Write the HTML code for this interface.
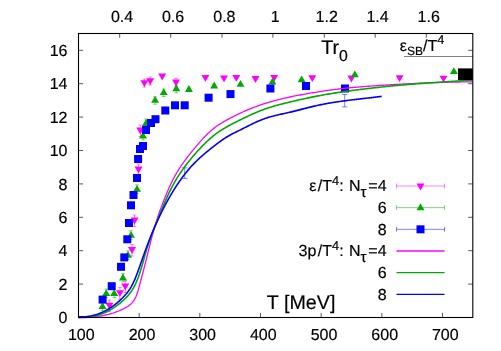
<!DOCTYPE html>
<html><head><meta charset="utf-8"><title>plot</title>
<style>html,body{margin:0;padding:0;background:#fff;}svg{display:block;will-change:transform;}text{font-family:"Liberation Sans",sans-serif;fill:#000;stroke:#000;stroke-width:0.18px;text-rendering:geometricPrecision;}</style></head><body>
<svg width="501" height="351" viewBox="0 0 501 351">
<rect width="501" height="351" fill="#fff"/>
<path d="M109.40,300.10 V311.60 M107.60,300.10 H111.20 M107.60,311.60 H111.20" stroke="#ff00ff" stroke-width="0.5" fill="none"/>
<path d="M119.90,287.60 V299.10 M118.10,287.60 H121.70 M118.10,299.10 H121.70" stroke="#ff00ff" stroke-width="0.5" fill="none"/>
<path d="M125.30,281.00 V292.50 M123.50,281.00 H127.10 M123.50,292.50 H127.10" stroke="#ff00ff" stroke-width="0.5" fill="none"/>
<path d="M132.00,244.50 V256.00 M130.20,244.50 H133.80 M130.20,256.00 H133.80" stroke="#ff00ff" stroke-width="0.5" fill="none"/>
<path d="M134.50,215.00 V226.50 M132.70,215.00 H136.30 M132.70,226.50 H136.30" stroke="#ff00ff" stroke-width="0.5" fill="none"/>
<path d="M138.50,164.00 V175.50 M136.70,164.00 H140.30 M136.70,175.50 H140.30" stroke="#ff00ff" stroke-width="0.5" fill="none"/>
<path d="M140.30,125.00 V136.50 M138.50,125.00 H142.10 M138.50,136.50 H142.10" stroke="#ff00ff" stroke-width="0.5" fill="none"/>
<path d="M144.40,79.10 V87.10 M142.60,79.10 H146.20 M142.60,87.10 H146.20" stroke="#ff00ff" stroke-width="0.5" fill="none"/>
<path d="M150.20,77.00 V85.00 M148.40,77.00 H152.00 M148.40,85.00 H152.00" stroke="#ff00ff" stroke-width="0.5" fill="none"/>
<path d="M176.00,78.40 V86.40 M174.20,78.40 H177.80 M174.20,86.40 H177.80" stroke="#ff00ff" stroke-width="0.5" fill="none"/>
<path d="M102.50,302.00 V310.60 M100.70,302.00 H104.30 M100.70,310.60 H104.30" stroke="#00aa00" stroke-width="0.5" fill="none"/>
<path d="M106.20,289.00 V297.60 M104.40,289.00 H108.00 M104.40,297.60 H108.00" stroke="#00aa00" stroke-width="0.5" fill="none"/>
<path d="M114.20,289.00 V297.60 M112.40,289.00 H116.00 M112.40,297.60 H116.00" stroke="#00aa00" stroke-width="0.5" fill="none"/>
<path d="M123.00,273.40 V282.00 M121.20,273.40 H124.80 M121.20,282.00 H124.80" stroke="#00aa00" stroke-width="0.5" fill="none"/>
<path d="M128.00,250.80 V259.40 M126.20,250.80 H129.80 M126.20,259.40 H129.80" stroke="#00aa00" stroke-width="0.5" fill="none"/>
<path d="M131.00,230.70 V239.30 M129.20,230.70 H132.80 M129.20,239.30 H132.80" stroke="#00aa00" stroke-width="0.5" fill="none"/>
<path d="M137.00,184.80 V193.40 M135.20,184.80 H138.80 M135.20,193.40 H138.80" stroke="#00aa00" stroke-width="0.5" fill="none"/>
<path d="M143.00,131.40 V140.00 M141.20,131.40 H144.80 M141.20,140.00 H144.80" stroke="#00aa00" stroke-width="0.5" fill="none"/>
<path d="M146.00,118.90 V127.50 M144.20,118.90 H147.80 M144.20,127.50 H147.80" stroke="#00aa00" stroke-width="0.5" fill="none"/>
<path d="M155.10,96.80 V104.20 M153.30,96.80 H156.90 M153.30,104.20 H156.90" stroke="#00aa00" stroke-width="0.5" fill="none"/>
<path d="M163.70,89.10 V96.50 M161.90,89.10 H165.50 M161.90,96.50 H165.50" stroke="#00aa00" stroke-width="0.5" fill="none"/>
<path d="M176.30,85.30 V92.70 M174.50,85.30 H178.10 M174.50,92.70 H178.10" stroke="#00aa00" stroke-width="0.5" fill="none"/>
<g>
<path d="M109.40,309.50 L113.40,302.70 L105.40,302.70Z" fill="#ff00ff"/>
<path d="M119.90,297.00 L123.90,290.20 L115.90,290.20Z" fill="#ff00ff"/>
<path d="M125.30,290.40 L129.30,283.60 L121.30,283.60Z" fill="#ff00ff"/>
<path d="M132.00,253.90 L136.00,247.10 L128.00,247.10Z" fill="#ff00ff"/>
<path d="M134.50,224.40 L138.50,217.60 L130.50,217.60Z" fill="#ff00ff"/>
<path d="M138.50,173.40 L142.50,166.60 L134.50,166.60Z" fill="#ff00ff"/>
<path d="M140.30,134.40 L144.30,127.60 L136.30,127.60Z" fill="#ff00ff"/>
<path d="M144.40,87.10 L148.40,80.30 L140.40,80.30Z" fill="#ff00ff"/>
<path d="M150.20,85.00 L154.20,78.20 L146.20,78.20Z" fill="#ff00ff"/>
<path d="M162.20,80.40 L166.20,73.60 L158.20,73.60Z" fill="#ff00ff"/>
<path d="M176.00,86.40 L180.00,79.60 L172.00,79.60Z" fill="#ff00ff"/>
<path d="M205.40,81.80 L209.40,75.00 L201.40,75.00Z" fill="#ff00ff"/>
<path d="M224.00,82.20 L228.00,75.40 L220.00,75.40Z" fill="#ff00ff"/>
<path d="M236.30,81.80 L240.30,75.00 L232.30,75.00Z" fill="#ff00ff"/>
<path d="M255.50,82.90 L259.50,76.10 L251.50,76.10Z" fill="#ff00ff"/>
<path d="M274.20,81.80 L278.20,75.00 L270.20,75.00Z" fill="#ff00ff"/>
<path d="M312.30,82.00 L316.30,75.20 L308.30,75.20Z" fill="#ff00ff"/>
<path d="M351.40,82.40 L355.40,75.60 L347.40,75.60Z" fill="#ff00ff"/>
<path d="M399.60,82.00 L403.60,75.20 L395.60,75.20Z" fill="#ff00ff"/>
<path d="M443.50,82.50 L447.50,75.70 L439.50,75.70Z" fill="#ff00ff"/>
<path d="M102.50,302.20 L106.50,309.00 L98.50,309.00Z" fill="#00aa00"/>
<path d="M106.20,289.20 L110.20,296.00 L102.20,296.00Z" fill="#00aa00"/>
<path d="M114.20,289.20 L118.20,296.00 L110.20,296.00Z" fill="#00aa00"/>
<path d="M123.00,273.60 L127.00,280.40 L119.00,280.40Z" fill="#00aa00"/>
<path d="M128.00,251.00 L132.00,257.80 L124.00,257.80Z" fill="#00aa00"/>
<path d="M131.00,230.90 L135.00,237.70 L127.00,237.70Z" fill="#00aa00"/>
<path d="M137.00,185.00 L141.00,191.80 L133.00,191.80Z" fill="#00aa00"/>
<path d="M143.00,131.60 L147.00,138.40 L139.00,138.40Z" fill="#00aa00"/>
<path d="M146.00,119.10 L150.00,125.90 L142.00,125.90Z" fill="#00aa00"/>
<path d="M155.10,96.00 L159.10,102.80 L151.10,102.80Z" fill="#00aa00"/>
<path d="M163.70,88.30 L167.70,95.10 L159.70,95.10Z" fill="#00aa00"/>
<path d="M176.30,84.50 L180.30,91.30 L172.30,91.30Z" fill="#00aa00"/>
<path d="M188.90,85.10 L192.90,91.90 L184.90,91.90Z" fill="#00aa00"/>
<path d="M214.20,81.60 L218.20,88.40 L210.20,88.40Z" fill="#00aa00"/>
<path d="M240.50,79.90 L244.50,86.70 L236.50,86.70Z" fill="#00aa00"/>
<path d="M272.40,77.80 L276.40,84.60 L268.40,84.60Z" fill="#00aa00"/>
<path d="M301.60,75.40 L305.60,82.20 L297.60,82.20Z" fill="#00aa00"/>
<path d="M354.80,70.40 L358.80,77.20 L350.80,77.20Z" fill="#00aa00"/>
<path d="M453.90,67.30 L457.90,74.10 L449.90,74.10Z" fill="#00aa00"/>
<rect x="98.60" y="295.60" width="8.0" height="8.0" fill="#0000ff"/>
<rect x="107.70" y="282.20" width="8.0" height="8.0" fill="#0000ff"/>
<rect x="117.00" y="262.80" width="8.0" height="8.0" fill="#0000ff"/>
<rect x="120.30" y="253.40" width="8.0" height="8.0" fill="#0000ff"/>
<rect x="123.30" y="235.30" width="8.0" height="8.0" fill="#0000ff"/>
<rect x="125.00" y="219.00" width="8.0" height="8.0" fill="#0000ff"/>
<rect x="127.00" y="201.30" width="8.0" height="8.0" fill="#0000ff"/>
<rect x="129.50" y="191.00" width="8.0" height="8.0" fill="#0000ff"/>
<rect x="133.00" y="174.00" width="8.0" height="8.0" fill="#0000ff"/>
<rect x="134.10" y="155.00" width="8.0" height="8.0" fill="#0000ff"/>
<rect x="136.00" y="145.00" width="8.0" height="8.0" fill="#0000ff"/>
<rect x="139.00" y="142.00" width="8.0" height="8.0" fill="#0000ff"/>
<rect x="142.00" y="126.00" width="8.0" height="8.0" fill="#0000ff"/>
<rect x="147.00" y="119.00" width="8.0" height="8.0" fill="#0000ff"/>
<rect x="151.50" y="115.20" width="8.0" height="8.0" fill="#0000ff"/>
<rect x="161.30" y="106.50" width="8.0" height="8.0" fill="#0000ff"/>
<rect x="171.00" y="101.30" width="8.0" height="8.0" fill="#0000ff"/>
<rect x="180.70" y="101.30" width="8.0" height="8.0" fill="#0000ff"/>
<rect x="204.60" y="93.70" width="8.0" height="8.0" fill="#0000ff"/>
<rect x="226.50" y="90.10" width="8.0" height="8.0" fill="#0000ff"/>
<rect x="266.40" y="84.50" width="8.0" height="8.0" fill="#0000ff"/>
<rect x="302.00" y="82.00" width="8.0" height="8.0" fill="#0000ff"/>
<rect x="341.00" y="84.50" width="8.0" height="8.0" fill="#0000ff"/>
</g>
<path d="M184.70,167.80 V178.40 M182.00,167.80 H187.40 M182.00,178.40 H187.40" stroke="#0000ff" stroke-width="0.5" fill="none"/>
<path d="M344.70,94.50 V106.90 M342.00,94.50 H347.40 M342.00,106.90 H347.40" stroke="#0000ff" stroke-width="0.5" fill="none"/>
<g font-size="16" text-anchor="end">
<text x="386.6" y="191.4">ε<tspan dx="1.5">/T</tspan><tspan dy="-6.5" font-size="12.8">4</tspan><tspan dy="6.5">:</tspan><tspan dx="1"> N</tspan><tspan dy="5.4" font-size="15">τ</tspan><tspan dy="-5.4" dx="1.8">=4</tspan></text>
<text x="386.6" y="213.1">6</text>
<text x="386.6" y="234.7">8</text>
<text x="386.6" y="256.4">3p<tspan dx="1.5">/T</tspan><tspan dy="-6.5" font-size="12.8">4</tspan><tspan dy="6.5">:</tspan><tspan dx="1"> N</tspan><tspan dy="5.4" font-size="15">τ</tspan><tspan dy="-5.4" dx="1.8">=4</tspan></text>
<text x="386.6" y="278.0">6</text>
<text x="386.6" y="299.7">8</text>
</g>
<path d="M396.5,186.00 H444.5 M396.5,183.60 V188.40 M444.5,183.60 V188.40" stroke="#ff00ff" stroke-width="0.5" fill="none"/>
<path d="M396.5,207.66 H444.5 M396.5,205.26 V210.06 M444.5,205.26 V210.06" stroke="#00aa00" stroke-width="0.5" fill="none"/>
<path d="M396.5,229.32 H444.5 M396.5,226.92 V231.72 M444.5,226.92 V231.72" stroke="#0000ff" stroke-width="0.5" fill="none"/>
<path d="M420.50,190.40 L424.50,183.60 L416.50,183.60Z" fill="#ff00ff"/>
<path d="M420.50,203.36 L424.50,210.16 L416.50,210.16Z" fill="#00aa00"/>
<rect x="416.50" y="225.32" width="8.0" height="8.0" fill="#0000ff"/>
<path d="M396.5,250.98 H444.5" stroke="#ff00ff" stroke-width="1.3" fill="none"/>
<path d="M396.5,272.64 H444.5" stroke="#00aa00" stroke-width="1.3" fill="none"/>
<path d="M396.5,294.30 H444.5" stroke="#0000ff" stroke-width="1.3" fill="none"/>
<path d="M78.50,317.79 L79.80,317.76 L81.10,317.72 L82.40,317.67 L83.70,317.62 L85.00,317.56 L86.31,317.49 L87.61,317.41 L88.91,317.32 L90.21,317.23 L91.51,317.11 L92.80,316.99 L94.10,316.86 L95.39,316.71 L96.68,316.55 L97.97,316.38 L99.26,316.19 L100.54,315.99 L101.82,315.77 L103.10,315.53 L104.37,315.28 L105.64,315.01 L106.91,314.72 L108.17,314.42 L109.43,314.09 L110.68,313.75 L111.93,313.38 L113.17,313.00 L114.40,312.59 L115.64,312.16 L116.86,311.71 L118.08,311.24 L119.29,310.74 L120.49,310.22 L121.68,309.68 L122.86,309.11 L124.03,308.52 L125.19,307.90 L126.33,307.26 L127.46,306.58 L128.54,305.87 L129.59,305.10 L130.58,304.28 L131.52,303.40 L132.38,302.46 L133.18,301.46 L133.92,300.41 L134.59,299.30 L135.21,298.16 L135.78,296.99 L136.30,295.79 L136.78,294.56 L137.22,293.33 L137.63,292.09 L138.01,290.84 L138.37,289.58 L138.72,288.32 L139.05,287.06 L139.38,285.79 L139.71,284.53 L140.04,283.27 L140.37,282.02 L140.71,280.76 L141.05,279.50 L141.38,278.25 L141.72,277.00 L142.06,275.74 L142.39,274.49 L142.73,273.23 L143.06,271.98 L143.39,270.73 L143.72,269.47 L144.05,268.21 L144.38,266.95 L144.70,265.69 L145.02,264.43 L145.34,263.17 L145.65,261.91 L145.97,260.65 L146.28,259.38 L146.60,258.12 L146.91,256.86 L147.22,255.59 L147.53,254.33 L147.84,253.06 L148.16,251.80 L148.47,250.53 L148.78,249.26 L149.10,248.00 L149.41,246.73 L149.73,245.47 L150.05,244.21 L150.37,242.94 L150.69,241.68 L151.01,240.42 L151.34,239.16 L151.67,237.89 L152.00,236.63 L152.33,235.38 L152.67,234.12 L153.01,232.86 L153.36,231.61 L153.71,230.35 L154.06,229.10 L154.42,227.85 L154.78,226.60 L155.15,225.35 L155.52,224.10 L155.90,222.86 L156.28,221.62 L156.67,220.38 L157.07,219.14 L157.47,217.90 L157.88,216.67 L158.29,215.44 L158.71,214.21 L159.14,212.98 L159.57,211.76 L160.01,210.54 L160.46,209.32 L160.91,208.10 L161.37,206.88 L161.83,205.67 L162.29,204.45 L162.76,203.24 L163.24,202.02 L163.71,200.81 L164.19,199.60 L164.68,198.39 L165.16,197.18 L165.65,195.97 L166.15,194.76 L166.64,193.55 L167.14,192.34 L167.65,191.14 L168.16,189.94 L168.68,188.74 L169.21,187.54 L169.74,186.35 L170.28,185.17 L170.83,183.99 L171.39,182.81 L171.96,181.64 L172.55,180.48 L173.14,179.32 L173.75,178.17 L174.36,177.03 L174.99,175.89 L175.63,174.76 L176.28,173.64 L176.94,172.53 L177.62,171.42 L178.30,170.31 L178.99,169.22 L179.69,168.13 L180.40,167.04 L181.12,165.96 L181.85,164.89 L182.59,163.82 L183.33,162.75 L184.09,161.69 L184.85,160.64 L185.62,159.59 L186.39,158.54 L187.18,157.50 L187.97,156.47 L188.76,155.43 L189.57,154.41 L190.37,153.38 L191.19,152.36 L192.01,151.34 L192.83,150.33 L193.67,149.32 L194.50,148.31 L195.34,147.31 L196.18,146.31 L197.03,145.31 L197.88,144.31 L198.74,143.32 L199.60,142.33 L200.47,141.35 L201.34,140.37 L202.22,139.40 L203.10,138.43 L203.99,137.48 L204.90,136.53 L205.81,135.60 L206.73,134.68 L207.66,133.77 L208.60,132.87 L209.55,131.99 L210.52,131.12 L211.50,130.27 L212.49,129.43 L213.49,128.62 L214.51,127.82 L215.55,127.04 L216.60,126.29 L217.66,125.55 L218.74,124.82 L219.83,124.12 L220.93,123.43 L222.04,122.75 L223.16,122.09 L224.28,121.43 L225.41,120.79 L226.55,120.15 L227.70,119.53 L228.84,118.91 L229.99,118.29 L231.15,117.68 L232.30,117.08 L233.47,116.49 L234.63,115.90 L235.80,115.32 L236.97,114.75 L238.14,114.18 L239.32,113.62 L240.50,113.07 L241.69,112.52 L242.88,111.98 L244.07,111.45 L245.26,110.93 L246.46,110.41 L247.66,109.90 L248.86,109.40 L250.07,108.90 L251.27,108.41 L252.49,107.93 L253.70,107.46 L254.92,107.00 L256.14,106.54 L257.36,106.09 L258.58,105.65 L259.81,105.21 L261.04,104.79 L262.27,104.37 L263.51,103.96 L264.75,103.56 L265.99,103.17 L267.23,102.78 L268.47,102.40 L269.72,102.03 L270.97,101.67 L272.22,101.31 L273.47,100.96 L274.72,100.62 L275.98,100.29 L277.24,99.96 L278.50,99.64 L279.76,99.32 L281.02,99.01 L282.28,98.71 L283.55,98.41 L284.82,98.12 L286.09,97.83 L287.36,97.55 L288.63,97.28 L289.90,97.00 L291.17,96.74 L292.45,96.48 L293.73,96.22 L295.00,95.96 L296.28,95.72 L297.56,95.47 L298.84,95.23 L300.12,94.99 L301.40,94.75 L302.68,94.52 L303.97,94.29 L305.25,94.07 L306.53,93.85 L307.82,93.62 L309.10,93.41 L310.38,93.19 L311.67,92.98 L312.95,92.76 L314.24,92.55 L315.53,92.34 L316.81,92.14 L318.10,91.93 L319.38,91.72 L320.67,91.52 L321.95,91.32 L323.24,91.12 L324.53,90.93 L325.81,90.73 L327.10,90.54 L328.39,90.36 L329.68,90.17 L330.96,89.99 L332.25,89.81 L333.54,89.64 L334.83,89.47 L336.12,89.30 L337.41,89.14 L338.70,88.98 L339.99,88.82 L341.28,88.67 L342.58,88.53 L343.87,88.39 L345.16,88.25 L346.46,88.12 L347.75,87.99 L349.05,87.86 L350.34,87.74 L351.64,87.62 L352.93,87.50 L354.23,87.38 L355.53,87.27 L356.82,87.16 L358.12,87.05 L359.42,86.95 L360.72,86.84 L362.01,86.74 L363.31,86.64 L364.61,86.54 L365.91,86.44 L367.21,86.34 L368.50,86.25 L369.80,86.15 L371.10,86.05 L372.40,85.96 L373.70,85.87 L374.99,85.78 L376.29,85.68 L377.59,85.59 L378.89,85.51 L380.19,85.42 L381.49,85.33 L382.79,85.24 L384.08,85.16 L385.38,85.08 L386.68,84.99 L387.98,84.91 L389.28,84.83 L390.58,84.75 L391.88,84.67 L393.18,84.59 L394.47,84.52 L395.77,84.44 L397.07,84.37 L398.37,84.29 L399.67,84.22 L400.97,84.15 L402.27,84.08 L403.57,84.01 L404.87,83.94 L406.17,83.87 L407.47,83.80 L408.77,83.74 L410.07,83.67 L411.37,83.61 L412.67,83.55 L413.97,83.49 L415.27,83.43 L416.57,83.37 L417.87,83.31 L419.17,83.25 L420.47,83.19 L421.77,83.14 L423.07,83.08 L424.37,83.03 L425.67,82.98 L426.97,82.93 L428.27,82.88 L429.57,82.83 L430.87,82.78 L432.17,82.73 L433.47,82.69 L434.77,82.64 L436.07,82.60 L437.37,82.56 L438.67,82.51 L439.97,82.47 L441.27,82.43 L442.57,82.40 L443.87,82.36 L445.17,82.32 L446.48,82.29 L447.78,82.25 L449.08,82.22 L450.38,82.19 L451.68,82.15 L452.98,82.12 L454.28,82.10 L455.58,82.07 L456.88,82.04 L458.18,82.01 L459.49,81.99 L460.79,81.97 L462.09,81.94 L463.39,81.92 L464.69,81.90 L465.99,81.88 L467.29,81.86 L468.60,81.84 L469.90,81.83 L471.20,81.81 L472.50,81.80" stroke="#ff00ff" stroke-width="1.3" fill="none" stroke-linejoin="round"/>
<path d="M78.50,316.99 L79.76,317.01 L81.03,317.02 L82.30,317.01 L83.58,316.98 L84.85,316.94 L86.13,316.87 L87.41,316.79 L88.68,316.68 L89.96,316.55 L91.23,316.39 L92.49,316.21 L93.75,316.01 L95.01,315.77 L96.26,315.50 L97.49,315.21 L98.72,314.88 L99.94,314.52 L101.14,314.12 L102.34,313.69 L103.52,313.23 L104.69,312.74 L105.85,312.22 L106.99,311.67 L108.13,311.09 L109.25,310.49 L110.35,309.87 L111.45,309.23 L112.53,308.56 L113.60,307.87 L114.66,307.17 L115.71,306.44 L116.74,305.70 L117.77,304.93 L118.78,304.16 L119.78,303.36 L120.77,302.55 L121.75,301.72 L122.72,300.87 L123.66,300.01 L124.60,299.13 L125.51,298.24 L126.40,297.32 L127.27,296.39 L128.11,295.44 L128.93,294.47 L129.72,293.48 L130.48,292.47 L131.22,291.44 L131.92,290.39 L132.60,289.32 L133.25,288.24 L133.87,287.14 L134.47,286.02 L135.05,284.89 L135.61,283.75 L136.14,282.59 L136.65,281.43 L137.15,280.25 L137.63,279.07 L138.09,277.87 L138.54,276.67 L138.97,275.47 L139.39,274.25 L139.79,273.04 L140.19,271.82 L140.57,270.60 L140.95,269.37 L141.31,268.15 L141.67,266.92 L142.03,265.69 L142.38,264.47 L142.72,263.24 L143.07,262.01 L143.41,260.79 L143.75,259.56 L144.08,258.33 L144.42,257.11 L144.77,255.89 L145.11,254.66 L145.46,253.44 L145.81,252.22 L146.17,251.01 L146.54,249.79 L146.92,248.58 L147.30,247.37 L147.69,246.16 L148.08,244.95 L148.48,243.75 L148.89,242.55 L149.31,241.35 L149.73,240.15 L150.16,238.95 L150.59,237.76 L151.02,236.56 L151.47,235.37 L151.91,234.18 L152.36,232.99 L152.82,231.80 L153.28,230.61 L153.74,229.42 L154.20,228.24 L154.67,227.05 L155.14,225.87 L155.61,224.68 L156.09,223.50 L156.57,222.32 L157.05,221.13 L157.53,219.95 L158.01,218.77 L158.49,217.59 L158.97,216.40 L159.45,215.22 L159.94,214.04 L160.42,212.86 L160.90,211.68 L161.39,210.49 L161.87,209.31 L162.36,208.13 L162.85,206.96 L163.34,205.78 L163.84,204.60 L164.34,203.43 L164.84,202.25 L165.34,201.08 L165.85,199.92 L166.37,198.75 L166.89,197.59 L167.41,196.43 L167.94,195.27 L168.48,194.11 L169.02,192.96 L169.57,191.82 L170.13,190.67 L170.69,189.53 L171.26,188.40 L171.84,187.27 L172.43,186.14 L173.03,185.02 L173.64,183.90 L174.25,182.79 L174.88,181.69 L175.52,180.59 L176.16,179.49 L176.82,178.40 L177.49,177.32 L178.17,176.25 L178.86,175.17 L179.56,174.11 L180.27,173.05 L180.98,171.99 L181.71,170.95 L182.44,169.90 L183.18,168.87 L183.93,167.83 L184.69,166.81 L185.45,165.78 L186.22,164.77 L187.00,163.76 L187.78,162.75 L188.57,161.75 L189.37,160.75 L190.17,159.76 L190.97,158.77 L191.78,157.79 L192.60,156.82 L193.42,155.85 L194.25,154.88 L195.09,153.92 L195.93,152.96 L196.78,152.01 L197.63,151.07 L198.49,150.13 L199.36,149.19 L200.23,148.26 L201.11,147.34 L201.99,146.42 L202.88,145.51 L203.78,144.60 L204.68,143.70 L205.59,142.80 L206.51,141.91 L207.44,141.03 L208.37,140.16 L209.31,139.30 L210.26,138.45 L211.22,137.61 L212.20,136.79 L213.18,135.98 L214.17,135.19 L215.18,134.41 L216.19,133.65 L217.22,132.90 L218.26,132.17 L219.31,131.46 L220.37,130.76 L221.43,130.07 L222.51,129.39 L223.59,128.73 L224.69,128.08 L225.78,127.44 L226.89,126.81 L228.00,126.18 L229.12,125.57 L230.24,124.97 L231.37,124.37 L232.50,123.78 L233.64,123.19 L234.78,122.61 L235.92,122.04 L237.06,121.46 L238.21,120.90 L239.35,120.33 L240.50,119.76 L241.65,119.20 L242.80,118.64 L243.94,118.08 L245.09,117.53 L246.24,116.98 L247.40,116.43 L248.55,115.89 L249.70,115.35 L250.86,114.82 L252.02,114.29 L253.18,113.77 L254.34,113.26 L255.51,112.75 L256.68,112.25 L257.85,111.76 L259.03,111.28 L260.21,110.81 L261.39,110.35 L262.57,109.89 L263.76,109.45 L264.96,109.02 L266.16,108.60 L267.36,108.19 L268.57,107.79 L269.78,107.40 L270.99,107.02 L272.21,106.65 L273.43,106.28 L274.65,105.93 L275.88,105.58 L277.10,105.24 L278.33,104.91 L279.57,104.58 L280.80,104.26 L282.04,103.94 L283.27,103.63 L284.51,103.32 L285.75,103.02 L286.99,102.72 L288.23,102.42 L289.47,102.12 L290.71,101.83 L291.95,101.53 L293.19,101.24 L294.44,100.95 L295.68,100.66 L296.92,100.38 L298.16,100.09 L299.40,99.81 L300.65,99.53 L301.89,99.25 L303.13,98.98 L304.38,98.71 L305.62,98.44 L306.86,98.17 L308.11,97.90 L309.35,97.64 L310.60,97.38 L311.85,97.13 L313.09,96.88 L314.34,96.63 L315.59,96.38 L316.84,96.14 L318.09,95.90 L319.34,95.67 L320.59,95.44 L321.84,95.21 L323.09,94.98 L324.35,94.76 L325.60,94.54 L326.86,94.32 L328.11,94.11 L329.37,93.90 L330.62,93.69 L331.88,93.49 L333.14,93.29 L334.39,93.09 L335.65,92.89 L336.91,92.70 L338.17,92.50 L339.43,92.32 L340.69,92.13 L341.95,91.94 L343.21,91.76 L344.47,91.58 L345.73,91.40 L346.99,91.23 L348.25,91.05 L349.51,90.88 L350.78,90.71 L352.04,90.54 L353.30,90.38 L354.56,90.21 L355.83,90.05 L357.09,89.89 L358.35,89.73 L359.62,89.57 L360.88,89.41 L362.15,89.25 L363.41,89.10 L364.67,88.95 L365.94,88.79 L367.20,88.64 L368.47,88.49 L369.73,88.35 L371.00,88.20 L372.26,88.05 L373.53,87.91 L374.79,87.76 L376.06,87.62 L377.32,87.48 L378.59,87.34 L379.85,87.20 L381.12,87.07 L382.38,86.93 L383.65,86.80 L384.92,86.66 L386.18,86.53 L387.45,86.40 L388.71,86.27 L389.98,86.14 L391.25,86.02 L392.51,85.89 L393.78,85.77 L395.05,85.65 L396.31,85.53 L397.58,85.41 L398.85,85.29 L400.12,85.17 L401.38,85.06 L402.65,84.95 L403.92,84.83 L405.19,84.72 L406.46,84.61 L407.72,84.51 L408.99,84.40 L410.26,84.30 L411.53,84.19 L412.80,84.09 L414.07,83.99 L415.34,83.89 L416.61,83.80 L417.88,83.70 L419.15,83.61 L420.42,83.51 L421.69,83.42 L422.96,83.33 L424.23,83.24 L425.50,83.15 L426.77,83.06 L428.04,82.97 L429.31,82.89 L430.58,82.80 L431.85,82.71 L433.12,82.63 L434.39,82.54 L435.66,82.46 L436.93,82.38 L438.20,82.29 L439.47,82.21 L440.74,82.13 L442.01,82.05 L443.28,81.96 L444.56,81.88 L445.83,81.80 L447.10,81.72 L448.37,81.64 L449.64,81.55 L450.91,81.47 L452.18,81.39 L453.45,81.31 L454.72,81.22 L455.99,81.14 L457.26,81.05 L458.53,80.97 L459.80,80.88 L461.07,80.80 L462.34,80.71 L463.61,80.63 L464.88,80.54 L466.15,80.45 L467.42,80.36 L468.69,80.27 L469.96,80.18 L471.23,80.09 L472.50,79.99" stroke="#00aa00" stroke-width="1.6" fill="none" stroke-linejoin="round"/>
<path d="M78.50,316.80 L79.52,316.85 L80.55,316.88 L81.57,316.89 L82.60,316.88 L83.62,316.84 L84.64,316.79 L85.65,316.71 L86.67,316.61 L87.68,316.49 L88.69,316.34 L89.70,316.18 L90.70,316.00 L91.70,315.80 L92.69,315.57 L93.68,315.33 L94.67,315.07 L95.65,314.79 L96.62,314.49 L97.59,314.17 L98.55,313.83 L99.50,313.48 L100.45,313.11 L101.39,312.72 L102.33,312.31 L103.25,311.88 L104.17,311.44 L105.08,310.98 L105.98,310.51 L106.87,310.02 L107.75,309.51 L108.63,308.99 L109.49,308.46 L110.35,307.91 L111.20,307.34 L112.04,306.77 L112.87,306.18 L113.69,305.57 L114.50,304.96 L115.31,304.33 L116.11,303.70 L116.90,303.05 L117.68,302.39 L118.45,301.72 L119.22,301.04 L119.98,300.36 L120.73,299.66 L121.47,298.96 L122.20,298.24 L122.92,297.52 L123.63,296.79 L124.33,296.04 L125.01,295.29 L125.69,294.52 L126.35,293.75 L126.99,292.96 L127.61,292.16 L128.23,291.35 L128.82,290.53 L129.39,289.70 L129.95,288.85 L130.48,287.99 L131.00,287.12 L131.50,286.23 L131.99,285.34 L132.46,284.44 L132.92,283.53 L133.36,282.62 L133.79,281.70 L134.22,280.77 L134.63,279.84 L135.03,278.90 L135.42,277.96 L135.81,277.01 L136.18,276.06 L136.55,275.11 L136.92,274.15 L137.28,273.20 L137.63,272.24 L137.99,271.28 L138.33,270.31 L138.68,269.35 L139.02,268.39 L139.37,267.43 L139.71,266.46 L140.05,265.50 L140.39,264.54 L140.73,263.58 L141.06,262.61 L141.40,261.65 L141.74,260.69 L142.07,259.73 L142.41,258.77 L142.75,257.81 L143.09,256.85 L143.42,255.89 L143.76,254.93 L144.10,253.97 L144.44,253.01 L144.79,252.05 L145.13,251.09 L145.48,250.14 L145.83,249.18 L146.18,248.22 L146.53,247.27 L146.89,246.32 L147.24,245.36 L147.60,244.41 L147.96,243.46 L148.33,242.51 L148.69,241.56 L149.06,240.61 L149.43,239.66 L149.81,238.71 L150.18,237.77 L150.56,236.82 L150.94,235.88 L151.32,234.93 L151.71,233.99 L152.09,233.05 L152.48,232.11 L152.88,231.17 L153.27,230.23 L153.67,229.30 L154.07,228.36 L154.47,227.43 L154.88,226.49 L155.29,225.56 L155.70,224.63 L156.11,223.70 L156.53,222.77 L156.95,221.84 L157.37,220.92 L157.80,219.99 L158.23,219.07 L158.66,218.15 L159.09,217.22 L159.53,216.30 L159.97,215.39 L160.41,214.47 L160.86,213.55 L161.31,212.64 L161.76,211.73 L162.21,210.82 L162.67,209.91 L163.13,209.00 L163.60,208.09 L164.07,207.19 L164.54,206.28 L165.01,205.38 L165.49,204.48 L165.97,203.58 L166.46,202.68 L166.95,201.79 L167.44,200.89 L167.93,200.00 L168.43,199.11 L168.93,198.22 L169.44,197.34 L169.95,196.45 L170.46,195.57 L170.97,194.69 L171.49,193.81 L172.02,192.93 L172.54,192.05 L173.08,191.18 L173.61,190.31 L174.15,189.44 L174.69,188.58 L175.24,187.72 L175.79,186.86 L176.35,186.00 L176.91,185.15 L177.48,184.30 L178.05,183.45 L178.62,182.61 L179.20,181.77 L179.78,180.93 L180.37,180.10 L180.96,179.27 L181.56,178.44 L182.16,177.62 L182.77,176.80 L183.39,175.99 L184.00,175.18 L184.63,174.37 L185.26,173.57 L185.89,172.78 L186.53,171.99 L187.17,171.20 L187.82,170.42 L188.48,169.64 L189.14,168.87 L189.81,168.10 L190.48,167.34 L191.16,166.58 L191.85,165.83 L192.54,165.09 L193.24,164.35 L193.94,163.61 L194.65,162.89 L195.36,162.16 L196.09,161.45 L196.81,160.74 L197.55,160.03 L198.29,159.33 L199.03,158.64 L199.78,157.95 L200.54,157.26 L201.29,156.58 L202.06,155.91 L202.83,155.23 L203.60,154.57 L204.37,153.90 L205.15,153.25 L205.94,152.59 L206.72,151.94 L207.51,151.29 L208.31,150.64 L209.10,150.00 L209.90,149.36 L210.70,148.72 L211.50,148.09 L212.30,147.46 L213.11,146.83 L213.92,146.20 L214.72,145.57 L215.53,144.95 L216.34,144.32 L217.15,143.70 L217.97,143.09 L218.78,142.47 L219.60,141.87 L220.43,141.27 L221.25,140.67 L222.08,140.08 L222.92,139.50 L223.76,138.93 L224.61,138.37 L225.46,137.82 L226.32,137.27 L227.18,136.74 L228.06,136.23 L228.94,135.72 L229.82,135.22 L230.72,134.74 L231.61,134.26 L232.52,133.79 L233.42,133.32 L234.33,132.86 L235.25,132.41 L236.16,131.96 L237.08,131.51 L237.99,131.06 L238.91,130.60 L239.83,130.15 L240.74,129.70 L241.66,129.24 L242.57,128.78 L243.49,128.32 L244.40,127.85 L245.31,127.39 L246.22,126.93 L247.14,126.47 L248.05,126.01 L248.97,125.55 L249.88,125.09 L250.80,124.64 L251.71,124.19 L252.63,123.75 L253.55,123.31 L254.47,122.87 L255.40,122.44 L256.32,122.02 L257.25,121.60 L258.18,121.19 L259.12,120.79 L260.05,120.40 L260.99,120.01 L261.94,119.64 L262.88,119.28 L263.83,118.92 L264.79,118.58 L265.75,118.25 L266.71,117.93 L267.68,117.63 L268.65,117.33 L269.62,117.04 L270.59,116.76 L271.57,116.49 L272.56,116.23 L273.54,115.98 L274.53,115.73 L275.52,115.48 L276.51,115.24 L277.50,115.01 L278.49,114.78 L279.49,114.55 L280.48,114.33 L281.48,114.11 L282.48,113.89 L283.48,113.67 L284.48,113.45 L285.47,113.23 L286.47,113.01 L287.47,112.79 L288.47,112.56 L289.46,112.33 L290.46,112.10 L291.45,111.87 L292.45,111.63 L293.44,111.38 L294.43,111.14 L295.42,110.89 L296.41,110.64 L297.40,110.39 L298.39,110.14 L299.37,109.88 L300.36,109.63 L301.35,109.37 L302.34,109.12 L303.32,108.86 L304.31,108.60 L305.30,108.35 L306.28,108.10 L307.27,107.85 L308.26,107.59 L309.25,107.35 L310.23,107.10 L311.22,106.86 L312.21,106.62 L313.20,106.38 L314.19,106.15 L315.18,105.92 L316.18,105.70 L317.17,105.48 L318.16,105.26 L319.16,105.05 L320.16,104.85 L321.15,104.64 L322.15,104.44 L323.15,104.25 L324.15,104.06 L325.15,103.87 L326.15,103.68 L327.15,103.50 L328.15,103.32 L329.16,103.15 L330.16,102.98 L331.16,102.81 L332.17,102.64 L333.17,102.48 L334.18,102.32 L335.19,102.16 L336.19,102.01 L337.20,101.86 L338.21,101.71 L339.22,101.56 L340.22,101.42 L341.23,101.28 L342.24,101.14 L343.25,101.00 L344.26,100.86 L345.27,100.73 L346.28,100.59 L347.29,100.46 L348.31,100.33 L349.32,100.21 L350.33,100.08 L351.34,99.96 L352.35,99.83 L353.37,99.71 L354.38,99.59 L355.39,99.47 L356.40,99.35 L357.42,99.23 L358.43,99.11 L359.44,99.00 L360.46,98.88 L361.47,98.76 L362.48,98.65 L363.50,98.53 L364.51,98.42 L365.52,98.30 L366.53,98.19 L367.55,98.07 L368.56,97.96 L369.57,97.84 L370.58,97.73 L371.60,97.61 L372.61,97.50 L373.62,97.38 L374.63,97.26 L375.64,97.14 L376.65,97.02 L377.66,96.90 L378.67,96.78 L379.68,96.66 L380.69,96.54 L381.70,96.41" stroke="#0000ff" stroke-width="1.6" fill="none" stroke-linejoin="round"/>
<rect x="458" y="68.4" width="14.8" height="11.6" fill="#000"/>
<path d="M404,56.5 H472.8" stroke="#000" stroke-width="0.5" fill="none"/>
<text x="399.8" y="50.5" font-size="16">ε<tspan dy="4.2" font-size="12">SB</tspan><tspan dy="-4.2">/T</tspan><tspan dy="-7" font-size="12.8">4</tspan></text>
<rect x="78.5" y="33.5" width="394.30" height="284.00" fill="none" stroke="#000" stroke-width="1.1"/>
<path d="M78.5,284.10 h4.6 M472.8,284.10 h-4.6 M78.5,250.70 h4.6 M472.8,250.70 h-4.6 M78.5,217.30 h4.6 M472.8,217.30 h-4.6 M78.5,183.90 h4.6 M472.8,183.90 h-4.6 M78.5,150.50 h4.6 M472.8,150.50 h-4.6 M78.5,117.10 h4.6 M472.8,117.10 h-4.6 M78.5,83.70 h4.6 M472.8,83.70 h-4.6 M78.5,50.30 h4.6 M472.8,50.30 h-4.6 M139.17,317.5 v-4.6 M199.84,317.5 v-4.6 M260.51,317.5 v-4.6 M321.18,317.5 v-4.6 M381.85,317.5 v-4.6 M442.52,317.5 v-4.6 M119.70,33.5 v4.2 M170.70,33.5 v4.2 M222.00,33.5 v4.2 M272.90,33.5 v4.2 M324.30,33.5 v4.2 M375.20,33.5 v4.2 M426.30,33.5 v4.2" stroke="#000" stroke-width="0.65" fill="none"/>
<g font-size="16" text-anchor="end">
<text x="67.5" y="323.2">0</text>
<text x="67.5" y="289.8">2</text>
<text x="67.5" y="256.4">4</text>
<text x="67.5" y="223.0">6</text>
<text x="67.5" y="189.6">8</text>
<text x="67.5" y="156.2">10</text>
<text x="67.5" y="122.8">12</text>
<text x="67.5" y="89.4">14</text>
<text x="67.5" y="56.0">16</text>
</g>
<g font-size="16" text-anchor="middle">
<text x="81.3" y="339.6">100</text>
<text x="142.0" y="339.6">200</text>
<text x="202.6" y="339.6">300</text>
<text x="263.3" y="339.6">400</text>
<text x="324.0" y="339.6">500</text>
<text x="384.7" y="339.6">600</text>
<text x="445.3" y="339.6">700</text>
<text x="122.1" y="22.3">0.4</text>
<text x="173.1" y="22.3">0.6</text>
<text x="224.4" y="22.3">0.8</text>
<text x="275.3" y="22.3">1</text>
<text x="326.7" y="22.3">1.2</text>
<text x="377.6" y="22.3">1.4</text>
<text x="428.7" y="22.3">1.6</text>
</g>
<text x="266.8" y="309.4" font-size="19.7">T [MeV]</text>
<text x="321.2" y="54.4" font-size="19.7">Tr<tspan dy="6.2" font-size="15.8">0</tspan></text>
</svg></body></html>
